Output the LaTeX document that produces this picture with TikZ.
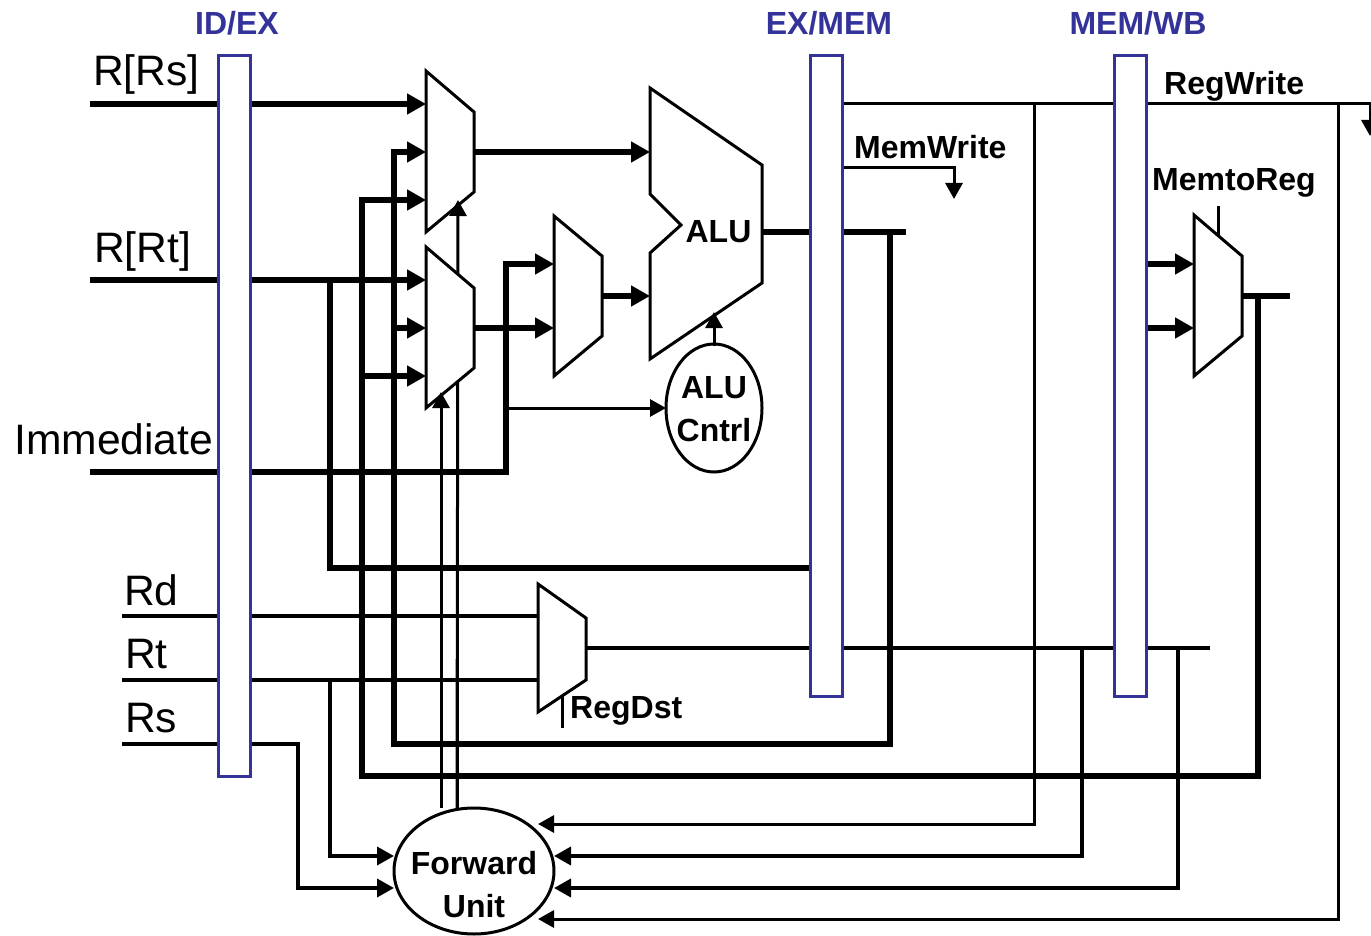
\documentclass[tikz,border=0pt]{standalone}
\usepackage{fontspec}
\setmainfont{Liberation Sans}
\usetikzlibrary{arrows.meta}
\usetikzlibrary{shapes.geometric}
\definecolor{barblue}{RGB}{51,51,153}
\tikzset{
  wirethick/.style={line width=6pt,miter limit=10},
  wiremid/.style={line width=3.6pt},
  wirethin/.style={line width=3pt},
  tipthick/.style={-{Triangle[length=19pt,width=20pt]}},
  tipmid/.style={-{Triangle[length=17pt,width=18pt]}},
  tipthin/.style={-{Triangle[length=16pt,width=17pt]}},
  barbox/.style={draw=barblue,fill=white,line width=3pt,minimum width=32pt,inner sep=0pt},
  muxshape/.style={draw=black,fill=white,line width=3pt,line join=miter},
  oval/.style={draw=black,fill=white,line width=3pt,ellipse},
  biglabel/.style={font=\fontsize{42.6}{46}\selectfont,inner sep=0pt,anchor=base west},
  boldlabel/.style={font=\fontsize{32}{36}\bfseries\selectfont,inner sep=0pt,anchor=base west},
  centerbold/.style={font=\fontsize{32}{36}\bfseries\selectfont,inner sep=0pt,anchor=base},
  headlabel/.style={font=\fontsize{32}{36}\bfseries\selectfont,inner sep=0pt,anchor=base,text=barblue},
}
\begin{document}
\begin{tikzpicture}[x=1pt,y=-1pt]
\useasboundingbox (0,0) rectangle (1371,936);
% --- end points
\coordinate (rsL) at (90,104);   \coordinate (rsM) at (426,104);
\coordinate (rtL) at (90,280);   \coordinate (rtM) at (426,280);
\coordinate (rtB) at (330,280);  \coordinate (rtC) at (330,568); \coordinate (rtE) at (810,568);
\coordinate (imL) at (90,472);   \coordinate (imC) at (506,472); \coordinate (imU) at (506,264); \coordinate (imM) at (554,264);
\coordinate (m1o) at (474,152);  \coordinate (aluA) at (650,152);
\coordinate (m2o) at (474,328);  \coordinate (m3b) at (554,328);
\coordinate (m3o) at (602,296);  \coordinate (aluB) at (650,296);
\coordinate (aluO) at (762,232); \coordinate (aluE) at (906,232);
\coordinate (fa1) at (890,232);  \coordinate (fa2) at (890,744); \coordinate (fa3) at (394,744); \coordinate (fa4) at (394,152); \coordinate (fa5) at (426,152);
\coordinate (fa6) at (394,328);  \coordinate (fa7) at (426,328);
\coordinate (wbO) at (1242,296); \coordinate (wbE) at (1290,296);
\coordinate (fb1) at (1258,296); \coordinate (fb2) at (1258,776); \coordinate (fb3) at (362,776); \coordinate (fb4) at (362,200); \coordinate (fb5) at (426,200);
\coordinate (fb6) at (362,376);  \coordinate (fb7) at (426,376);
\coordinate (wbA) at (1146,264); \coordinate (wbAe) at (1194,264);
\coordinate (wbB) at (1146,328); \coordinate (wbBe) at (1194,328);
\coordinate (rdL) at (122,616);  \coordinate (rdM) at (538,616);
\coordinate (rtiL) at (122,680); \coordinate (rtiM) at (538,680);
\coordinate (rsiL) at (122,744); \coordinate (rsi1) at (298,744); \coordinate (rsi2) at (298,888); \coordinate (rsi3) at (394,888);
\coordinate (rti1) at (330,680); \coordinate (rti2) at (330,856); \coordinate (rti3) at (394,856);
\coordinate (dsO) at (586,648);  \coordinate (dsE) at (1210,648);
\coordinate (ds1) at (1082,648); \coordinate (ds2) at (1082,856); \coordinate (ds3) at (554,856);
\coordinate (ds4) at (1178,648); \coordinate (ds5) at (1178,888); \coordinate (ds6) at (554,888);
\coordinate (rwS) at (842,104);  \coordinate (rwC) at (1370,104); \coordinate (rwE) at (1370,136);
\coordinate (rw1) at (1034,104); \coordinate (rw2) at (1034,824); \coordinate (rw3) at (538,824);
\coordinate (rw4) at (1338,104); \coordinate (rw5) at (1338,919); \coordinate (rw6) at (538,919);
\coordinate (mwS) at (842,168);  \coordinate (mwC) at (954,168); \coordinate (mwE) at (954,199);
\coordinate (ctS) at (506,408);  \coordinate (ctE) at (666,408);
\coordinate (clS) at (714,346);  \coordinate (clE) at (714,312);
\coordinate (fwA) at (441,808);  \coordinate (fwAe) at (441,392);
\coordinate (fwB) at (457,808);  \coordinate (fwBe) at (458,200);
\coordinate (mrS) at (1218,206); \coordinate (mrE) at (1218,238);
\coordinate (rdS) at (562,692);  \coordinate (rdE) at (562,728);
% --- thick wires
\draw[wirethick,tipthick] (rsL) -- (rsM);
\draw[wirethick,tipthick] (rtL) -- (rtM);
\draw[wirethick] (rtB) -- (rtC) -- (rtE);
\draw[wirethick,tipthick] (imL) -- (imC) -- (imU) -- (imM);
\draw[wirethick,tipthick] (m1o) -- (aluA);
\draw[wirethick,tipthick] (m2o) -- (m3b);
\draw[wirethick,tipthick] (m3o) -- (aluB);
\draw[wirethick] (aluO) -- (aluE);
\draw[wirethick,tipthick] (fa1) -- (fa2) -- (fa3) -- (fa4) -- (fa5);
\draw[wirethick,tipthick] (fa6) -- (fa7);
\draw[wirethick] (wbO) -- (wbE);
\draw[wirethick,tipthick] (fb1) -- (fb2) -- (fb3) -- (fb4) -- (fb5);
\draw[wirethick,tipthick] (fb6) -- (fb7);
\draw[wirethick,tipthick] (wbA) -- (wbAe);
\draw[wirethick,tipthick] (wbB) -- (wbBe);
% --- medium wires
\draw[wiremid] (rdL) -- (rdM);
\draw[wiremid] (rtiL) -- (rtiM);
\draw[wiremid,tipmid] (rsiL) -- (rsi1) -- (rsi2) -- (rsi3);
\draw[wiremid,tipmid] (rti1) -- (rti2) -- (rti3);
\draw[wiremid] (dsO) -- (dsE);
\draw[wiremid,tipmid] (ds1) -- (ds2) -- (ds3);
\draw[wiremid,tipmid] (ds4) -- (ds5) -- (ds6);
% --- thin wires
\draw[wirethin,tipthin] (rwS) -- (rwC) -- (rwE);
\draw[wirethin,tipthin] (rw1) -- (rw2) -- (rw3);
\draw[wirethin,tipthin] (rw4) -- (rw5) -- (rw6);
\draw[wirethin,tipthin] (mwS) -- (mwC) -- (mwE);
\draw[wirethin,tipthin] (ctS) -- (ctE);
\draw[wirethin] (mrS) -- (mrE);
\draw[wirethin] (rdS) -- (rdE);
% --- register bars
\node[barbox,minimum height=720pt] (idex) at (234,416) {};
\node[barbox,minimum height=640pt] (exmem) at (826,376) {};
\node[barbox,minimum height=640pt] (memwb) at (1130,376) {};
% --- multiplexers
\draw[muxshape] (426,71) -- (474,112) -- (474,192) -- (426,232) -- cycle;
\draw[wirethin,tipthin] (fwB) -- (fwBe);
\draw[muxshape] (426,247) -- (474,288) -- (474,368) -- (426,408) -- cycle;
\draw[muxshape] (554,216) -- (602,256) -- (602,336) -- (554,376) -- cycle;
\draw[muxshape] (1194,215) -- (1242,256) -- (1242,336) -- (1194,376) -- cycle;
\draw[muxshape] (538,584) -- (586,618) -- (586,680) -- (538,712) -- cycle;
\draw[muxshape] (650,88) -- (762,165) -- (762,283) -- (650,359) -- (650,253) -- (681,225) -- (650,194) -- cycle;
\draw[wirethin,tipthin] (fwA) -- (fwAe);
\draw[wirethin] (fwB) -- (457,392);
% --- ovals
\node[oval,minimum width=96pt,minimum height=128pt,inner sep=0pt] (cntl) at (714,408) {};
\node[oval,minimum width=160pt,minimum height=126pt,inner sep=0pt] (fwd) at (474,871) {};
\draw[wirethin,tipthin] (clS) -- (clE);
% --- labels
\node[headlabel] (h1) at (237,35) {ID/EX};
\node[headlabel] (h2) at (829,35) {EX/MEM};
\node[headlabel] (h3) at (1138,35) {MEM/WB};
\node[biglabel] (l1) at (93,86) {R[Rs]};
\node[biglabel] (l2) at (94,262) {R[Rt]};
\node[biglabel] (l3) at (14,454) {Immediate};
\node[biglabel] (l4) at (124,605) {Rd};
\node[biglabel] (l5) at (125,668) {Rt};
\node[biglabel] (l6) at (125,732) {Rs};
\node[boldlabel] (b1) at (854,159) {MemWrite};
\node[boldlabel] (b2) at (1164,95) {RegWrite};
\node[boldlabel] (b3) at (1152,191) {MemtoReg};
\node[boldlabel] (b4) at (570,718) {RegDst};
\node[centerbold] (b5) at (718.5,243) {ALU};
\node[centerbold] (b6) at (714,398) {ALU};
\node[centerbold] (b7) at (714,441) {Cntrl};
\node[centerbold] (b8) at (474,874) {Forward};
\node[centerbold] (b9) at (474,917) {Unit};
\end{tikzpicture}
\end{document}
